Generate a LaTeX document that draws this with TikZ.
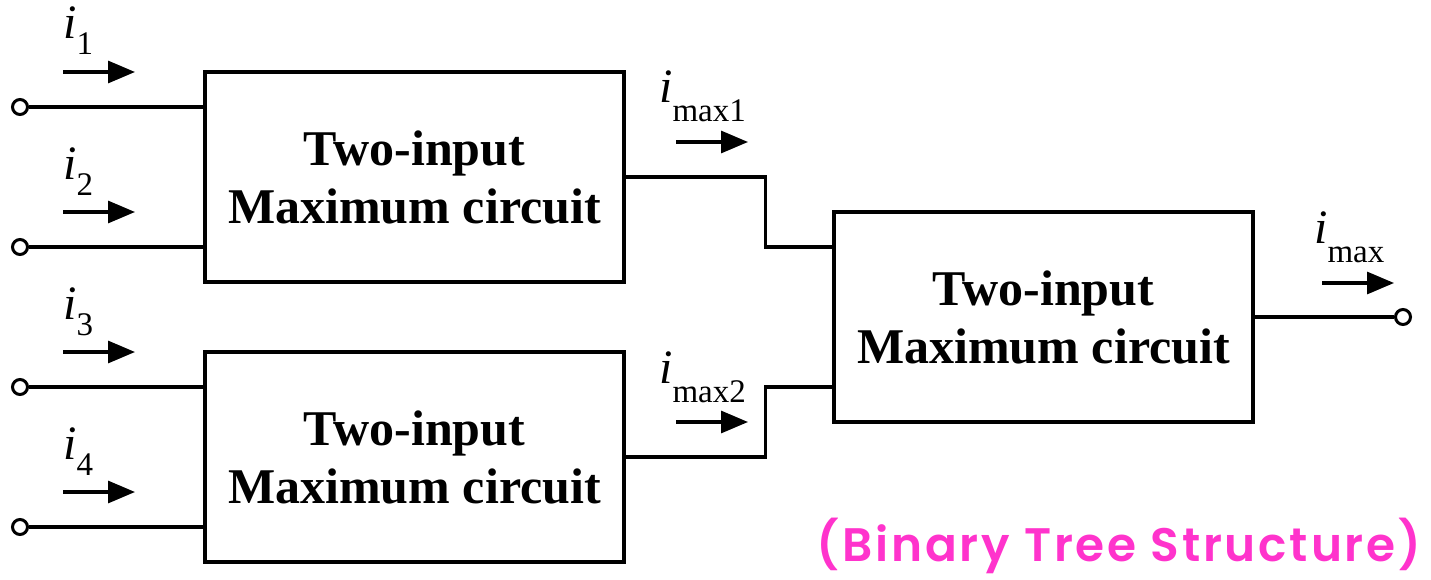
\documentclass[tikz,border=0pt]{standalone}
\usepackage{fontspec}
\setmainfont{Liberation Serif}
\newfontfamily\notefont[LetterSpace=6]{Poppins SemiBold}
\usetikzlibrary{arrows.meta}
\definecolor{notemagenta}{RGB}{255,51,204}
\newcommand{\curlbl}[2]{{\fontsize{48}{48}\selectfont\itshape i}\raisebox{-#1pt}{\fontsize{33}{33}\selectfont #2}}
\begin{document}
\begin{tikzpicture}[x=1pt,y=-1pt,
  wire/.style={line width=3.2pt},
  blockbox/.style={draw,line width=3.2pt,minimum width=419pt,minimum height=210pt,inner sep=0pt,
    align=center,font=\fontsize{50}{58}\selectfont\bfseries},
  term/.style={draw,circle,fill=white,line width=3pt,minimum size=15pt,inner sep=0pt},
  cur/.style={line width=3.2pt,-{Triangle[length=27pt,width=22pt]}},
  lbl/.style={anchor=base west,inner sep=0pt}]
\useasboundingbox (0,0) rectangle (1431,580);
% blocks
\node[blockbox] (b1) at (414.5,177) {Two-input\\Maximum circuit};
\node[blockbox] (b2) at (414.5,457) {Two-input\\Maximum circuit};
\node[blockbox] (b3) at (1043.5,317) {Two-input\\Maximum circuit};
% terminals
\coordinate (in1) at (205,107);
\coordinate (in2) at (205,247);
\coordinate (in3) at (205,387);
\coordinate (in4) at (205,527);
\node[term] (t1) at (20,107) {};
\node[term] (t2) at (20,247) {};
\node[term] (t3) at (20,387) {};
\node[term] (t4) at (20,527) {};
\node[term] (tout) at (1403,317) {};
\draw[wire] (t1) -- (in1);
\draw[wire] (t2) -- (in2);
\draw[wire] (t3) -- (in3);
\draw[wire] (t4) -- (in4);
% inter-block wires
\coordinate (c1) at (833,247);
\coordinate (c2) at (833,387);
\draw[wire] (b1.east) -- ++(140,0) |- (c1);
\draw[wire] (b2.east) -- ++(140,0) |- (c2);
\draw[wire] (b3.east) -- (tout);
% current arrows
\coordinate (a1) at (63,72);
\coordinate (a2) at (63,212);
\coordinate (a3) at (63,352);
\coordinate (a4) at (63,492);
\coordinate (am1) at (676,142);
\coordinate (am2) at (676,422);
\coordinate (am) at (1322,283);
\draw[cur] (a1) -- ++(72,0);
\draw[cur] (a2) -- ++(72,0);
\draw[cur] (a3) -- ++(72,0);
\draw[cur] (a4) -- ++(72,0);
\draw[cur] (am1) -- ++(72,0);
\draw[cur] (am2) -- ++(72,0);
\draw[cur] (am) -- ++(72,0);
% labels
\node[lbl] (l1) at (63,39) {\curlbl{16}{1}};
\node[lbl] (l2) at (63,179) {\curlbl{16}{2}};
\node[lbl] (l3) at (63,319) {\curlbl{16}{3}};
\node[lbl] (l4) at (63,459) {\curlbl{16}{4}};
\node[lbl] (lm1) at (659,103) {\curlbl{19}{max1}};
\node[lbl] (lm2) at (659,383) {\curlbl{19}{max2}};
\node[lbl] (lm) at (1314,243) {\curlbl{19}{max}};
% note
\node[text=notemagenta,font=\notefont\fontsize{47}{52}\selectfont,inner sep=0pt] (note) at (1119,546) {(Binary Tree Structure)};
\end{tikzpicture}
\end{document}
